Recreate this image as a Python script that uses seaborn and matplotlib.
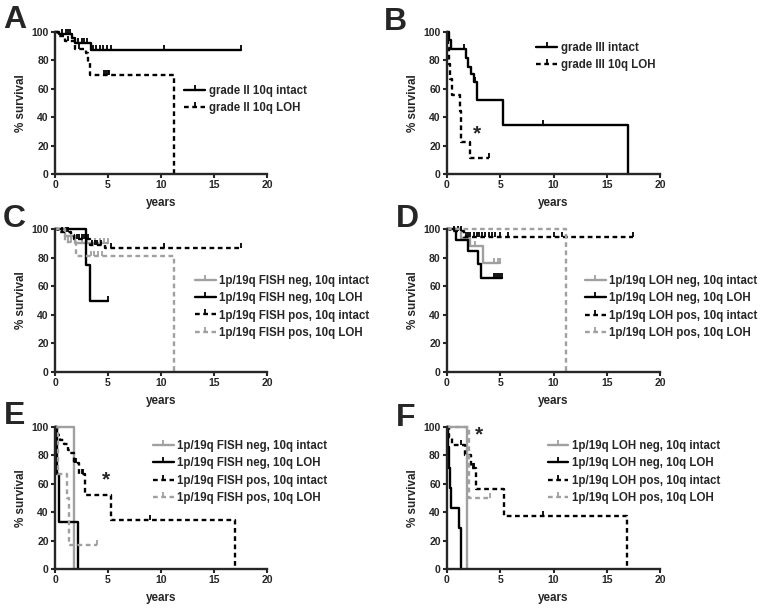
import numpy as np
import pandas as pd
import seaborn as sns
import matplotlib.pyplot as plt
from matplotlib.lines import Line2D

# ---- data: event times (years), survival (%) after each event, censor times ----
# panel A
a_intact_t = [0.4, 1.6, 1.9, 3.4]
a_intact_s = [98.7, 96.0, 92.3, 87.2]
a_intact_c = [0.7, 1.0, 1.2, 1.4, 2.2, 2.5, 2.7, 3.0, 3.6, 3.9, 4.2, 4.5, 4.9, 5.3, 10.3, 17.5]
a_loh_t = [0.3, 0.9, 1.9, 2.9, 3.1, 3.3, 11.2]
a_loh_s = [97.0, 94.0, 88.0, 85.0, 78.0, 69.6, 0.0]
a_loh_c = [1.2, 2.3, 4.6, 4.8, 5.0, 5.1]

# panel B
b_intact_t = [0.15, 0.4, 1.8, 2.0, 2.3, 2.5, 2.8, 5.3, 17.0]
b_intact_s = [94.1, 88.2, 82.0, 75.7, 70.3, 64.9, 51.9, 34.6, 0.0]
b_intact_c = [1.6, 2.55, 2.65, 9.0]
b_loh_t = [0.05, 0.15, 0.3, 0.45, 1.2, 1.35, 2.2]
b_loh_s = [88.9, 77.8, 66.7, 55.6, 44.4, 22.2, 11.1]
b_loh_c = [3.9]

# panel C
c_neg_int_t = [0.9, 1.9]
c_neg_int_s = [95.0, 90.5]
c_neg_int_c = [2.5, 3.0, 3.8, 4.2, 4.6, 5.0]
c_neg_loh_t = [2.9, 3.3]
c_neg_loh_s = [75.0, 50.0]
c_neg_loh_c = [5.0]
c_pos_int_t = [0.3, 1.5, 1.8, 3.3, 4.7]
c_pos_int_s = [98.0, 96.0, 93.0, 89.0, 86.5]
c_pos_int_c = [0.7, 1.0, 1.2, 2.1, 2.3, 2.5, 2.7, 2.9, 3.1, 3.5, 3.8, 4.0, 4.3, 5.3, 10.3, 17.5]
c_pos_loh_t = [0.9, 2.0, 11.2]
c_pos_loh_s = [91.0, 81.0, 0.0]
c_pos_loh_c = [1.2, 1.5, 3.4, 3.7, 4.1, 4.4]

# panel D
d_neg_int_t = [1.3, 2.2, 3.4]
d_neg_int_s = [94.0, 88.0, 76.5]
d_neg_int_c = [2.6, 4.4, 4.8, 5.0]
d_neg_loh_t = [0.8, 2.0, 2.9, 3.2]
d_neg_loh_s = [92.3, 84.6, 75.2, 65.8]
d_neg_loh_c = [4.4, 4.6, 4.8, 5.0, 5.2]
d_pos_int_t = [0.3, 1.6]
d_pos_int_s = [98.5, 94.5]
d_pos_int_c = [0.7, 1.0, 1.3, 1.8, 2.0, 2.2, 2.5, 2.8, 3.0, 3.3, 3.6, 3.9, 4.2, 4.5, 5.0, 5.7, 10.0, 10.8, 17.5]
d_pos_loh_t = [11.2]
d_pos_loh_s = [0.0]
d_pos_loh_c = []

# panel E
e_neg_int_t = [1.8]
e_neg_int_s = [0.0]
e_neg_int_c = []
e_neg_loh_t = [0.15, 0.4, 2.15]
e_neg_loh_s = [66.7, 33.3, 0.0]
e_neg_loh_c = []
e_pos_int_t = [0.15, 0.5, 0.85, 1.2, 1.4, 1.75, 2.3, 2.85, 5.3, 17.0]
e_pos_int_s = [94.1, 90.6, 88.0, 84.0, 81.5, 75.0, 67.0, 52.0, 34.7, 0.0]
e_pos_int_c = [1.9, 2.0, 2.5, 2.6, 9.0]
e_pos_loh_t = [0.3, 1.1, 1.35]
e_pos_loh_s = [66.7, 50.0, 16.7]
e_pos_loh_c = [4.0]

# panel F
f_neg_int_t = [1.85]
f_neg_int_s = [0.0]
f_neg_int_c = []
f_neg_loh_t = [0.1, 0.2, 0.3, 0.4, 1.1, 1.35]
f_neg_loh_s = [85.7, 71.4, 57.1, 42.9, 28.6, 0.0]
f_neg_loh_c = []
f_pos_int_t = [0.15, 0.45, 1.65, 2.3, 2.75, 5.35, 16.9]
f_pos_int_s = [93.3, 87.1, 80.5, 71.0, 56.0, 37.3, 0.0]
f_pos_int_c = [1.35, 2.45, 2.55, 9.0]
f_pos_loh_t = [2.05]
f_pos_loh_s = [50.0]
f_pos_loh_c = [4.0]

labels_ab = [["grade II 10q intact", "grade II 10q LOH"],
             ["grade III intact", "grade III 10q LOH"]]
labels_fish = ["1p/19q FISH neg, 10q intact", "1p/19q FISH neg, 10q LOH",
               "1p/19q FISH pos, 10q intact", "1p/19q FISH pos, 10q LOH"]
labels_loh = ["1p/19q LOH neg, 10q intact", "1p/19q LOH neg, 10q LOH",
              "1p/19q LOH pos, 10q intact", "1p/19q LOH pos, 10q LOH"]

sns.set_style("ticks")
plt.rcParams['font.family'] = ['Liberation Sans', 'DejaVu Sans']
plt.rcParams['font.weight'] = 'bold'
plt.rcParams['axes.labelweight'] = 'bold'

GRAY = '#a0a0a0'
DASH = (0, (2, 1.5))
LW = 1.7
# (color, linestyle) for the four groups
STYLES = [(GRAY, '-'), ('black', '-'), ('black', DASH), (GRAY, DASH)]


def km_steps(t, s, c):
    end = max(list(t) + list(c))
    x = [0.0] + list(t) + [end]
    y = [100.0] + list(s) + [s[-1]]
    return x, y


def censor_levels(t, s, c):
    idx = np.searchsorted(t, c, side='right') - 1
    full = np.array([100.0] + list(s))
    return full[idx + 1]


def draw_curve(ax, t, s, c, color, ls):
    x, y = km_steps(t, s, c)
    df = pd.DataFrame({'years': x, 'surv': y})
    sns.lineplot(data=df, x='years', y='surv', ax=ax, color=color, lw=LW,
                 linestyle=ls, drawstyle='steps-post', estimator=None,
                 sort=False, clip_on=False, legend=False)
    if len(c):
        ax.plot(c, censor_levels(t, s, c), ls='none', marker=2, ms=3.5,
                mew=1.3, color=color, clip_on=False)


def handle(color, ls):
    return Line2D([], [], color=color, lw=LW, linestyle=ls, marker=2,
                  ms=3.5, mew=1.3)


fig = plt.figure(figsize=(7.62, 6.08), dpi=100)
W, H = 762.0, 608.0


def px_axes(x0, x1, y0, y1):
    return fig.add_axes([x0 / W, 1 - y1 / H, (x1 - x0) / W, (y1 - y0) / H])


def style_axes(ax):
    ax.set_xlim(0, 20)
    ax.set_ylim(0, 100)
    ax.set_xticks([0, 5, 10, 15, 20])
    ax.set_yticks([0, 20, 40, 60, 80, 100])
    ax.tick_params(labelsize=7.5, width=1.5, length=3, pad=1.5)
    for lab in ax.get_xticklabels() + ax.get_yticklabels():
        lab.set_fontweight('bold')
    for sp in ['left', 'bottom']:
        ax.spines[sp].set_linewidth(1.7)
    sns.despine(ax=ax)
    ax.set_xlabel('years', fontsize=8.4, labelpad=5)
    ax.set_ylabel('% survival', fontsize=8.4, labelpad=3)


cols = [(55, 267), (447, 660)]
rows = [(32, 174), (229, 372), (427, 569)]

panels = [
    ([(a_intact_t, a_intact_s, a_intact_c), (a_loh_t, a_loh_s, a_loh_c)],
     [STYLES[1], STYLES[2]], labels_ab[0], (0.61, 0.525), None),
    ([(b_intact_t, b_intact_s, b_intact_c), (b_loh_t, b_loh_s, b_loh_c)],
     [STYLES[1], STYLES[2]], labels_ab[1], (0.42, 0.83), (2.86, 28.5)),
    ([(c_neg_int_t, c_neg_int_s, c_neg_int_c), (c_neg_loh_t, c_neg_loh_s, c_neg_loh_c),
      (c_pos_int_t, c_pos_int_s, c_pos_int_c), (c_pos_loh_t, c_pos_loh_s, c_pos_loh_c)],
     STYLES, labels_fish, (0.66, 0.455), None),
    ([(d_neg_int_t, d_neg_int_s, d_neg_int_c), (d_neg_loh_t, d_neg_loh_s, d_neg_loh_c),
      (d_pos_int_t, d_pos_int_s, d_pos_int_c), (d_pos_loh_t, d_pos_loh_s, d_pos_loh_c)],
     STYLES, labels_loh, (0.648, 0.454), None),
    ([(e_neg_int_t, e_neg_int_s, e_neg_int_c), (e_neg_loh_t, e_neg_loh_s, e_neg_loh_c),
      (e_pos_int_t, e_pos_int_s, e_pos_int_c), (e_pos_loh_t, e_pos_loh_s, e_pos_loh_c)],
     STYLES, labels_fish, (0.462, 0.683), (4.8, 62.7)),
    ([(f_neg_int_t, f_neg_int_s, f_neg_int_c), (f_neg_loh_t, f_neg_loh_s, f_neg_loh_c),
      (f_pos_int_t, f_pos_int_s, f_pos_int_c), (f_pos_loh_t, f_pos_loh_s, f_pos_loh_c)],
     STYLES, labels_loh, (0.472, 0.683), (3.0, 94.4)),
]

letters = ['A', 'B', 'C', 'D', 'E', 'F']
letter_pos = [(3, 5), (384, 7), (3, 204), (396, 204), (4, 401), (396, 403)]

for i, (curves, styles, labels, leg_pos, star) in enumerate(panels):
    r, cidx = divmod(i, 2)
    ax = px_axes(cols[cidx][0], cols[cidx][1], rows[r][0], rows[r][1])
    for (t, s, c), (color, ls) in zip(curves, styles):
        draw_curve(ax, t, s, c, color, ls)
    style_axes(ax)
    handles = [handle(color, ls) for color, ls in styles]
    ax.legend(handles, labels, loc='center left', bbox_to_anchor=leg_pos,
              frameon=False, prop={'size': 8.3, 'weight': 'bold'},
              handlelength=1.8, handletextpad=0.3, labelspacing=0.45,
              borderpad=0, borderaxespad=0)
    if star is not None:
        ax.text(star[0], star[1], '*', fontsize=15, fontweight='bold',
                ha='center', va='center')
    fig.text(letter_pos[i][0] / W, 1 - letter_pos[i][1] / H, letters[i],
             fontsize=23, fontweight='bold', ha='left', va='top')

fig.savefig('out.png', dpi=100)
